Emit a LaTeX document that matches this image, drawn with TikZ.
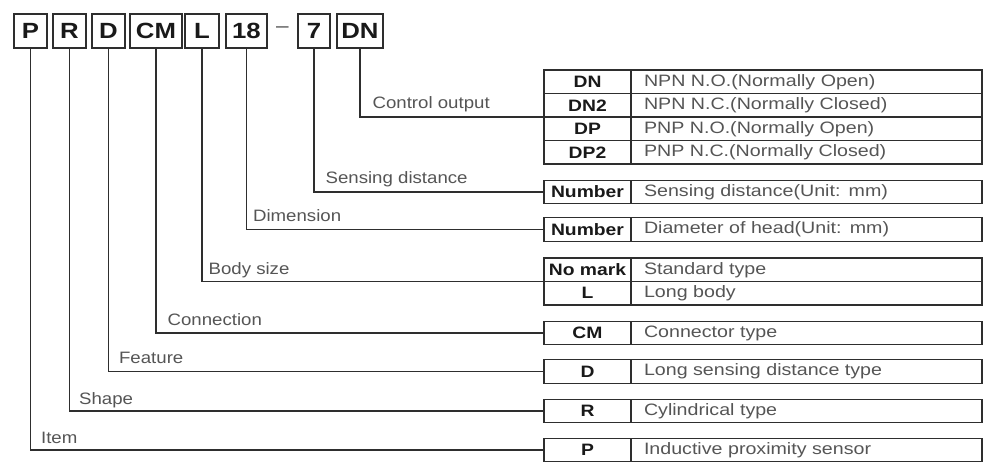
\documentclass[tikz,border=0pt]{standalone}
\usepackage{fontspec}
\setmainfont{Liberation Sans}
\newfontfamily\lblfont[FakeStretch=1.13]{Liberation Sans}
\newfontfamily\descfont[FakeStretch=1.19]{Liberation Sans}
\newfontfamily\codefont[FakeStretch=1.17]{Liberation Sans}
\usetikzlibrary{positioning}
\definecolor{linegray}{HTML}{2E2E2E}
\definecolor{textgray}{HTML}{555555}
\tikzset{
  codebox/.style={draw=linegray, line width=1.6pt, minimum height=34pt, inner sep=0pt, outer sep=0pt,
    font=\codefont\bfseries\fontsize{22}{24}\selectfont, text=black!90},
  codecell/.style={draw=linegray, line width=1.4pt, minimum width=87pt, minimum height=23.5pt,
    inner sep=0pt, outer sep=0pt, font=\codefont\bfseries\fontsize{16.5}{18}\selectfont, text=black!90},
  desccell/.style={draw=linegray, line width=1.4pt, text width=325pt, inner xsep=13pt, inner ysep=0pt,
    minimum height=23.5pt, outer sep=0pt, align=left, font=\descfont\fontsize{16.5}{18}\selectfont, text=textgray},
  lbl/.style={anchor=base west, inner sep=0pt, font=\lblfont\fontsize{16.5}{18}\selectfont, text=textgray},
  conn/.style={draw=linegray, line width=1.2pt}
}
\begin{document}
\begin{tikzpicture}[x=1pt, y=-1pt]
    \useasboundingbox (0,0) rectangle (985,473);
    % type code
    \foreach \name/\cx/\w/\txt in {it/30.5/33/P, sh/69.5/33/R, fe/108.5/33/D, cn/156/52/CM,
        bs/202/34/L, dm/246.5/41/18, sd/314/32/7, co/360/46/DN}
        \node[codebox, minimum width=\w pt] (\name) at (\cx,31) {\txt};
    \node[font=\lblfont\fontsize{20}{22}\selectfont, text=textgray] (dash) at (282.5,30) {–};

    % control output
    \node[codecell] (co1) at (587.5,81.75) {DN};
    \node[desccell, right=0pt of co1] (co1d) {NPN N.O.(Normally Open)};
    \node[codecell, below=0pt of co1] (co2) {DN2};
    \node[desccell, right=0pt of co2] (co2d) {NPN N.C.(Normally Closed)};
    \node[codecell, below=0pt of co2] (co3) {DP};
    \node[desccell, right=0pt of co3] (co3d) {PNP N.O.(Normally Open)};
    \node[codecell, below=0pt of co3] (co4) {DP2};
    \node[desccell, right=0pt of co4] (co4d) {PNP N.C.(Normally Closed)};
    % sensing distance
    \node[codecell] (sd1) at (587.5,192) {Number};
    \node[desccell, right=0pt of sd1] (sd1d) {Sensing distance(Unit: mm)};
    % dimension
    \node[codecell] (dm1) at (587.5,229.5) {Number};
    \node[desccell, right=0pt of dm1] (dm1d) {Diameter of head(Unit: mm)};
    % body size
    \node[codecell] (bs1) at (587.5,269.75) {No mark};
    \node[desccell, right=0pt of bs1] (bs1d) {Standard type};
    \node[codecell, below=0pt of bs1] (bs2) {L};
    \node[desccell, right=0pt of bs2] (bs2d) {Long body};
    % connection
    \node[codecell] (cn1) at (587.5,333) {CM};
    \node[desccell, right=0pt of cn1] (cn1d) {Connector type};
    % feature
    \node[codecell] (fe1) at (587.5,371.5) {D};
    \node[desccell, right=0pt of fe1] (fe1d) {Long sensing distance type};
    % shape
    \node[codecell] (sh1) at (587.5,411) {R};
    \node[desccell, right=0pt of sh1] (sh1d) {Cylindrical type};
    % item
    \node[codecell] (it1) at (587.5,450) {P};
    \node[desccell, right=0pt of it1] (it1d) {Inductive proximity sensor};

    % connectors
    \draw[conn] (co.south) |- (co2.south west) node[lbl, pos=0.5, xshift=12pt, yshift=8pt] {Control output};
    \draw[conn] (sd.south) |- (sd1.west) node[lbl, pos=0.5, xshift=11pt, yshift=8pt] {Sensing distance};
    \draw[conn] (dm.south) |- (dm1.west) node[lbl, pos=0.5, xshift=6pt, yshift=8pt] {Dimension};
    \draw[conn] (bs.south) |- (bs1.south west) node[lbl, pos=0.5, xshift=6pt, yshift=7pt] {Body size};
    \draw[conn] (cn.south) |- (cn1.west) node[lbl, pos=0.5, xshift=11pt, yshift=8pt] {Connection};
    \draw[conn] (fe.south) |- (fe1.west) node[lbl, pos=0.5, xshift=10pt, yshift=8pt] {Feature};
    \draw[conn] (sh.south) |- (sh1.west) node[lbl, pos=0.5, xshift=9pt, yshift=7pt] {Shape};
    \draw[conn] (it.south) |- (it1.west) node[lbl, pos=0.5, xshift=10pt, yshift=7pt] {Item};
\end{tikzpicture}
\end{document}
